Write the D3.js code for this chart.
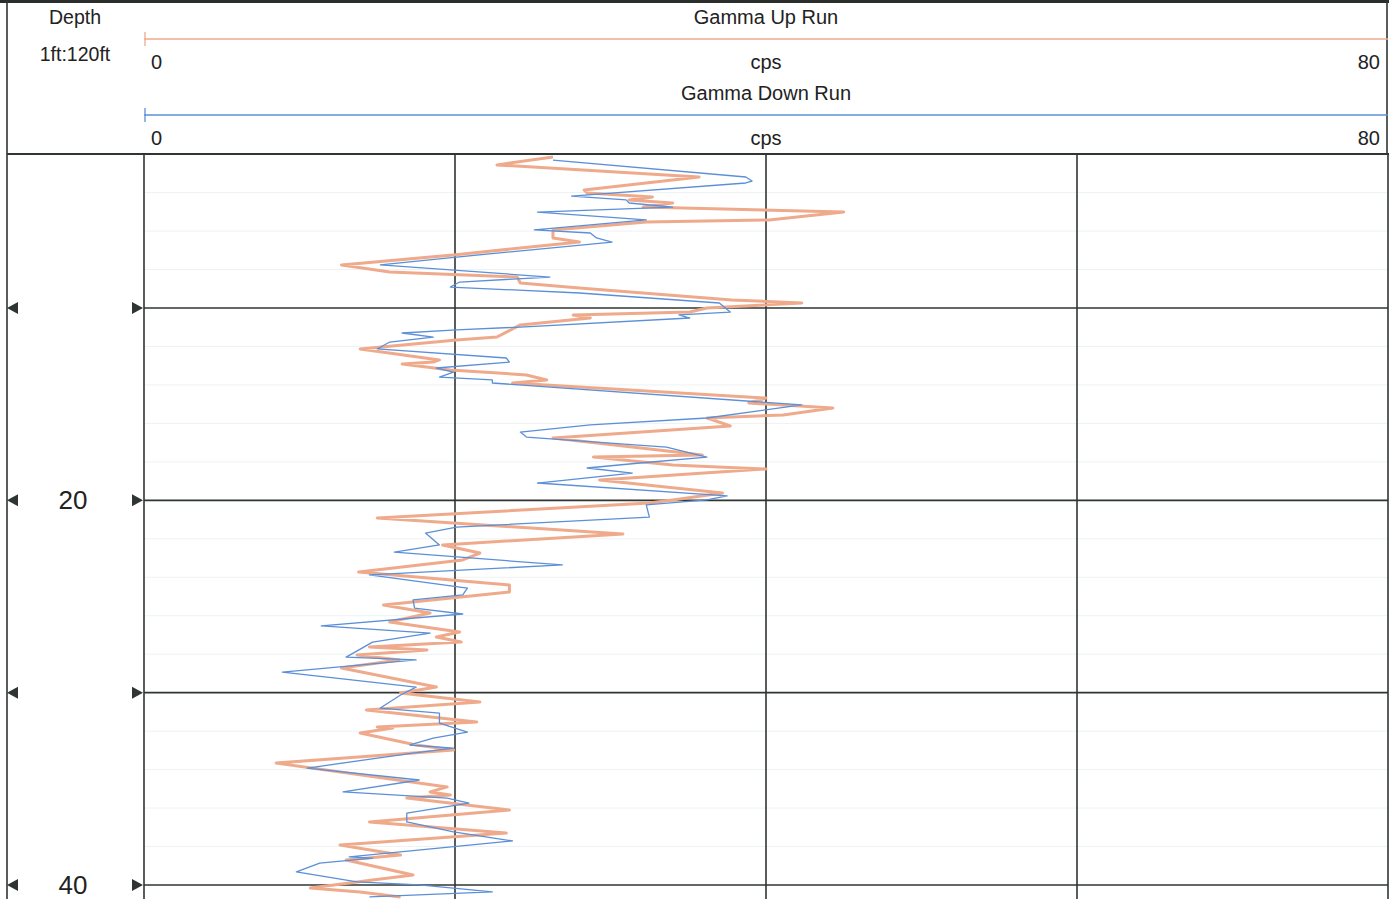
<!DOCTYPE html>
<html lang="en">
<head>
  <meta charset="utf-8">
  <title>Gamma log</title>
  <script src="https://cdn.jsdelivr.net/npm/d3@7/dist/d3.min.js"></script>
  <style>
    body { margin: 0; background: #fff; overflow: hidden; }
    svg text { font-family: 'Liberation Sans', Arial, sans-serif; fill: #222; }
  </style>
</head>
<body>
<svg id="chart" width="1389" height="899"></svg>
<script>
// depth (ft) / counts (cps)
const upDepth = [2.15, 2.56, 3.19, 3.86, 4.02, 4.23, 4.38, 4.54, 4.75, 5.01, 5.42, 5.53, 5.94, 6.36, 6.57, 7.24, 7.76, 8.13, 8.39, 8.70, 8.96, 9.58, 9.74, 10.0, 10.21, 10.36, 10.52, 10.88, 11.51, 11.66, 12.13, 12.70, 12.81, 12.91, 13.22, 13.48, 13.74, 13.90, 14.68, 14.94, 15.20, 15.56, 15.72, 16.13, 16.76, 17.64, 17.75, 18.16, 18.37, 18.94, 19.62, 19.98, 20.14, 20.92, 21.75, 22.32, 22.74, 23.10, 23.73, 24.40, 24.76, 25.44, 25.86, 26.33, 26.85, 27.11, 27.37, 27.62, 27.78, 28.04, 28.30, 28.72, 29.71, 30.02, 30.49, 30.90, 31.52, 31.78, 31.84, 32.10, 32.72, 32.98, 33.66, 34.90, 35.16, 35.32, 35.48, 36.10, 36.72, 37.30, 37.92, 38.44, 38.70, 39.48, 39.74, 40.16, 40.36, 40.62];
const upCps = [26.3, 22.7, 35.7, 28.3, 28.5, 32.7, 31.2, 34.0, 32.1, 45.0, 40.2, 32.3, 26.3, 26.3, 28.0, 19.9, 12.7, 15.8, 24.0, 24.2, 28.0, 37.8, 42.3, 36.2, 35.1, 27.6, 28.7, 24.2, 22.7, 20.1, 13.9, 19.0, 18.6, 16.6, 19.7, 24.6, 25.9, 23.7, 40.0, 38.9, 44.3, 41.1, 36.2, 37.7, 26.3, 35.9, 28.9, 34.0, 40.0, 29.3, 37.2, 34.0, 32.5, 15.0, 30.8, 19.2, 21.6, 20.5, 13.8, 23.5, 23.5, 15.4, 18.4, 15.8, 20.3, 18.8, 20.4, 14.5, 18.2, 13.7, 16.4, 12.7, 18.8, 16.5, 21.6, 14.3, 21.4, 15.0, 16.0, 13.9, 17.5, 19.9, 8.5, 19.5, 18.4, 19.7, 16.9, 23.5, 14.5, 23.3, 12.6, 16.5, 13.0, 17.3, 14.7, 10.7, 13.9, 16.5];

const downDepth = [2.31, 3.19, 3.40, 3.50, 4.18, 4.38, 4.54, 4.75, 5.01, 5.42, 5.94, 6.10, 6.36, 6.57, 7.35, 7.76, 8.39, 8.65, 8.91, 9.22, 9.74, 10.21, 10.36, 10.52, 10.99, 11.14, 11.30, 11.51, 11.77, 12.13, 12.60, 12.81, 13.12, 13.33, 13.59, 13.74, 13.90, 15.04, 15.72, 16.08, 16.45, 16.71, 17.23, 17.75, 18.06, 18.32, 18.58, 19.10, 19.77, 19.98, 20.24, 20.87, 21.39, 21.70, 22.32, 22.69, 23.36, 23.88, 24.56, 24.92, 25.18, 25.60, 25.91, 26.53, 26.90, 27.37, 28.15, 28.30, 28.93, 29.71, 30.12, 30.80, 31.06, 31.58, 32.05, 32.36, 32.72, 32.88, 33.14, 33.92, 34.54, 35.16, 35.48, 35.74, 36.26, 36.72, 37.24, 37.71, 38.54, 38.60, 38.86, 39.32, 39.84, 39.99, 40.36, 40.62];
const downCps = [26.3, 38.7, 39.1, 38.7, 27.5, 31.0, 31.2, 34.0, 25.3, 32.3, 25.1, 28.7, 29.1, 30.1, 20.1, 15.2, 26.1, 20.3, 19.7, 28.0, 37.0, 37.7, 34.4, 35.1, 24.2, 20.1, 16.6, 18.6, 15.8, 15.0, 23.3, 23.5, 18.8, 19.9, 19.0, 22.4, 22.4, 42.3, 36.2, 28.7, 24.2, 24.6, 33.6, 36.2, 31.9, 28.5, 31.4, 25.3, 37.5, 36.2, 32.3, 32.5, 20.1, 18.1, 19.0, 16.1, 26.9, 14.5, 20.8, 20.5, 17.3, 17.4, 20.5, 11.4, 18.4, 14.7, 13.0, 17.5, 8.9, 17.5, 16.5, 15.2, 19.0, 19.0, 20.8, 18.6, 17.1, 19.9, 17.3, 10.5, 17.7, 12.8, 19.5, 20.9, 16.9, 16.9, 19.9, 23.7, 13.2, 14.7, 11.3, 9.8, 13.7, 17.7, 22.4, 14.5];

const majorDepths = [10, 20, 30, 40];
const labelDepths = [20, 40];
const cpsGrid = [0, 20, 40, 60, 80];

const W = 1389, H = 899;
const headerBottom = 154;
const trackLeft = 144, trackRight = 1388, frameLeft = 7;
const upColor = "#efaa8c", downColor = "#5b8fd8", gridColor = "#2f3532";

const svg = d3.select("#chart");
const x = d3.scaleLinear().domain([0, 80]).range([trackLeft, trackRight]);
const y = d3.scaleLinear().domain([10, 40]).range([308, 885]);

// minor depth lines every 2 ft
const minor = d3.range(2, 42, 2).filter(d => !majorDepths.includes(d) && y(d) > headerBottom + 2);
svg.append("g").selectAll("line").data(minor).enter().append("line")
  .attr("x1", trackLeft).attr("x2", trackRight)
  .attr("y1", d => y(d)).attr("y2", d => y(d))
  .attr("stroke", "#eef2f3").attr("stroke-width", 1);

// vertical grid
svg.append("g").selectAll("line").data(cpsGrid).enter().append("line")
  .attr("x1", d => x(d)).attr("x2", d => x(d))
  .attr("y1", headerBottom).attr("y2", H)
  .attr("stroke", gridColor).attr("stroke-width", 1.6);

// major depth lines
svg.append("g").selectAll("line").data(majorDepths).enter().append("line")
  .attr("x1", trackLeft).attr("x2", trackRight)
  .attr("y1", d => y(d)).attr("y2", d => y(d))
  .attr("stroke", gridColor).attr("stroke-width", 1.6);

// frame
svg.append("rect").attr("x", 0).attr("y", 0).attr("width", W).attr("height", 3).attr("fill", "#2a2f2c");
svg.append("line").attr("x1", frameLeft).attr("x2", frameLeft).attr("y1", 0).attr("y2", H)
  .attr("stroke", gridColor).attr("stroke-width", 1.6);
svg.append("line").attr("x1", 1387).attr("x2", 1387).attr("y1", 0).attr("y2", headerBottom)
  .attr("stroke", gridColor).attr("stroke-width", 1.6);
svg.append("line").attr("x1", frameLeft).attr("x2", W).attr("y1", headerBottom).attr("y2", headerBottom)
  .attr("stroke", gridColor).attr("stroke-width", 1.8);

// depth markers
const tri = svg.append("g");
majorDepths.forEach(d => {
  const yy = y(d);
  tri.append("path").attr("d", `M${frameLeft},${yy} L${frameLeft + 11},${yy - 6} L${frameLeft + 11},${yy + 6}Z`).attr("fill", gridColor);
  tri.append("path").attr("d", `M${trackLeft - 1},${yy} L${trackLeft - 12},${yy - 6} L${trackLeft - 12},${yy + 6}Z`).attr("fill", gridColor);
});
svg.append("g").selectAll("text").data(labelDepths).enter().append("text")
  .attr("x", 73).attr("y", d => y(d) + 9).attr("text-anchor", "middle")
  .attr("font-size", 26).text(d => d);

// curves
const plot = svg.append("g");
plot.append("clipPath").attr("id", "clip").append("rect")
  .attr("x", trackLeft).attr("y", headerBottom + 1).attr("width", trackRight - trackLeft).attr("height", H - headerBottom);
const line = d3.line().x(d => x(d[1])).y(d => y(d[0]));
plot.append("path").datum(d3.zip(upDepth, upCps))
  .attr("clip-path", "url(#clip)").attr("fill", "none")
  .attr("stroke", upColor).attr("stroke-width", 3).attr("stroke-linejoin", "round")
  .attr("d", line);
plot.append("path").datum(d3.zip(downDepth, downCps))
  .attr("clip-path", "url(#clip)").attr("fill", "none")
  .attr("stroke", downColor).attr("stroke-width", 1.3).attr("stroke-linejoin", "round")
  .attr("d", line);

// header
const head = svg.append("g");
head.append("text").attr("x", 75).attr("y", 24).attr("text-anchor", "middle").attr("font-size", 19.5).text("Depth");
head.append("text").attr("x", 75).attr("y", 61).attr("text-anchor", "middle").attr("font-size", 19.5).text("1ft:120ft");

const scales = [
  { name: "Gamma Up Run", color: upColor, lineY: 39, titleY: 24, labY: 69 },
  { name: "Gamma Down Run", color: downColor, lineY: 115, titleY: 100, labY: 145 }
];
scales.forEach(s => {
  head.append("line").attr("x1", x(0)).attr("x2", x(80)).attr("y1", s.lineY).attr("y2", s.lineY)
    .attr("stroke", s.color).attr("stroke-width", 1.5);
  head.append("line").attr("x1", x(0) + 1).attr("x2", x(0) + 1).attr("y1", s.lineY - 7).attr("y2", s.lineY + 7)
    .attr("stroke", s.color).attr("stroke-width", 1.3);
  head.append("text").attr("x", x(40)).attr("y", s.titleY).attr("text-anchor", "middle").attr("font-size", 20).text(s.name);
  head.append("text").attr("x", x(0) + 7).attr("y", s.labY).attr("font-size", 20).text("0");
  head.append("text").attr("x", x(40)).attr("y", s.labY).attr("text-anchor", "middle").attr("font-size", 20).text("cps");
  head.append("text").attr("x", x(80) - 8).attr("y", s.labY).attr("text-anchor", "end").attr("font-size", 20).text("80");
});
</script>
</body>
</html>
